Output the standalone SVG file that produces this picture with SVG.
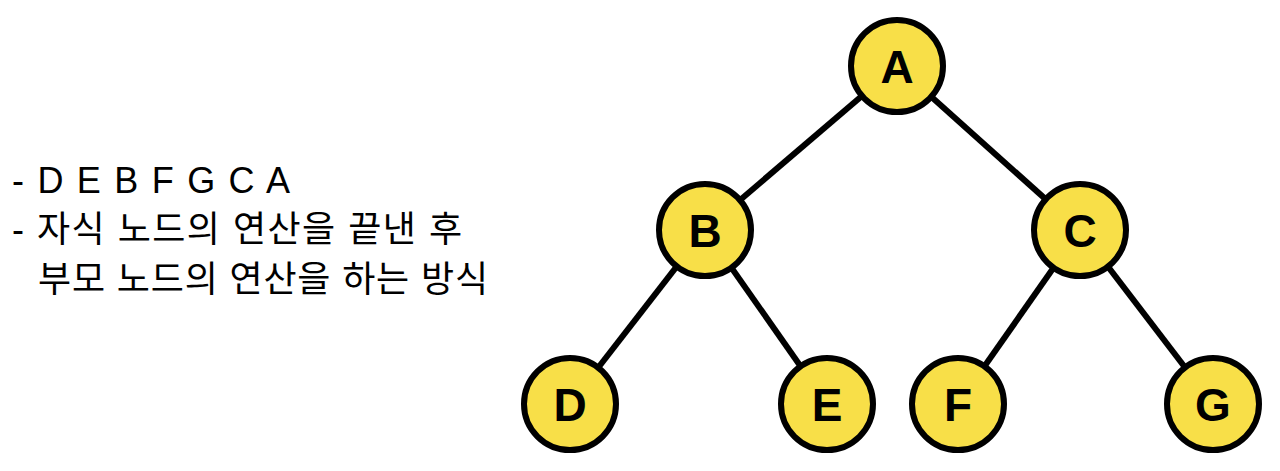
<svg xmlns="http://www.w3.org/2000/svg" width="1280" height="471" viewBox="0 0 1280 471">
<style>
.edge{stroke:#000;stroke-width:6;fill:none}
.node circle{fill:#F8DF48;stroke:#000;stroke-width:6}
.node text{font-family:"Liberation Sans",Arial,sans-serif;font-weight:bold;font-size:46px;text-anchor:middle;fill:#000}
.desc{font-family:"Liberation Sans","Noto Sans CJK KR",sans-serif;font-size:36px;fill:#000}
</style>
<rect width="1280" height="471" fill="#fff"/>
<g id="description">
<text class="desc" x="12" y="193" textLength="278" lengthAdjust="spacing">- D E B F G C A</text>
<text class="desc" x="12" y="242" textLength="450" lengthAdjust="spacing">- 자식 노드의 연산을 끝낸 후</text>
<text class="desc" x="38" y="292" textLength="450" lengthAdjust="spacing">부모 노드의 연산을 하는 방식</text>
</g>
<g id="connectors">
<line class="edge" x1="897" y1="66" x2="705" y2="230"/>
<line class="edge" x1="897" y1="66" x2="1080" y2="230"/>
<line class="edge" x1="705" y1="230" x2="570" y2="404"/>
<line class="edge" x1="705" y1="230" x2="827" y2="404"/>
<line class="edge" x1="1080" y1="230" x2="958" y2="404"/>
<line class="edge" x1="1080" y1="230" x2="1213" y2="404"/>
</g>
<g id="node-A" class="node"><circle cx="897" cy="66" r="46"/><text x="897" y="83">A</text></g>
<g id="node-B" class="node"><circle cx="705" cy="230" r="46"/><text x="705" y="247">B</text></g>
<g id="node-C" class="node"><circle cx="1080" cy="230" r="46"/><text x="1080" y="247">C</text></g>
<g id="node-D" class="node"><circle cx="570" cy="404" r="46"/><text x="570" y="421">D</text></g>
<g id="node-E" class="node"><circle cx="827" cy="404" r="46"/><text x="827" y="421">E</text></g>
<g id="node-F" class="node"><circle cx="958" cy="404" r="46"/><text x="958" y="421">F</text></g>
<g id="node-G" class="node"><circle cx="1213" cy="404" r="46"/><text x="1213" y="421">G</text></g>
</svg>
